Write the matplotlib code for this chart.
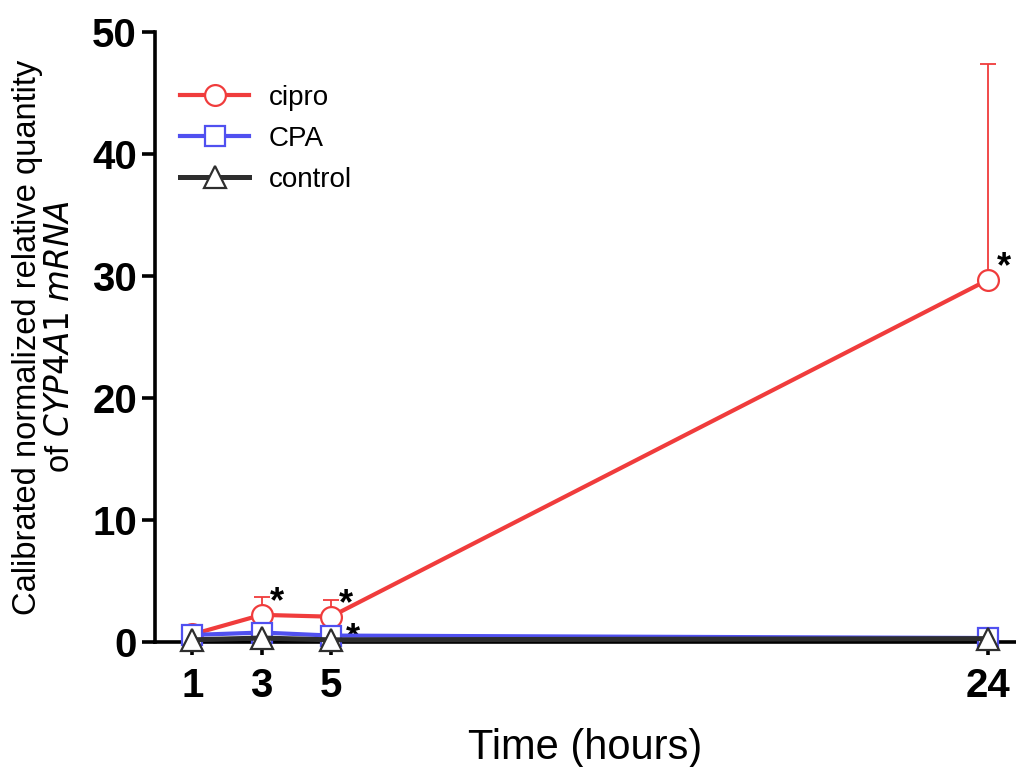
import matplotlib
matplotlib.use("Agg")
import matplotlib.pyplot as plt

plt.rcParams['font.family'] = ['Liberation Sans', 'DejaVu Sans']

# Sampling times (hours) and mean expression per treatment
hours = [1, 3, 5, 24]
cipro = [0.6, 2.2, 2.05, 29.7]
cipro_err = [0.0, 1.5, 1.35, 17.7]
cpa = [0.55, 0.75, 0.5, 0.3]
control = [0.15, 0.3, 0.15, 0.25]

# Indices of points flagged as significant
sig_cipro = [1, 2, 3]
sig_cpa = [2]

x_ticks = [1, 3, 5, 24]
y_ticks = [0, 10, 20, 30, 40, 50]

red = '#F03C3C'
blue = '#5050F0'
dark = '#2E2E2E'

fig = plt.figure(figsize=(10.16, 7.67), dpi=100)
ax = fig.add_axes([0.1526, 0.1634, 0.8474, 0.7946])

ax.errorbar(hours, cipro, yerr=[[0] * len(cipro_err), cipro_err], fmt='none',
            ecolor=red, elinewidth=1.3, capsize=6, capthick=1.3, zorder=2)
ax.plot(hours, cipro, '-o', color=red, lw=3.0, ms=15, mfc='white', mec=red,
        mew=1.6, label='cipro', zorder=3, clip_on=False)
ax.plot(hours, cpa, '-s', color=blue, lw=3.0, ms=14, mfc='white', mec=blue,
        mew=1.6, label='CPA', zorder=4, clip_on=False)
ax.plot(hours, control, '-^', color=dark, lw=3.6, ms=16, mfc='white', mec=dark,
        mew=1.6, label='control', zorder=5, clip_on=False)

for i in sig_cipro:
    ax.annotate('*', (hours[i], cipro[i]), xytext=(6, -4), textcoords='offset points',
                fontsize=26, fontweight='bold', ha='left', va='bottom', clip_on=False)
for i in sig_cpa:
    ax.annotate('*', (hours[i], cpa[i]), xytext=(11, -15), textcoords='offset points',
                fontsize=26, fontweight='bold', ha='left', va='bottom', clip_on=False)

ax.set_xlim(-0.08, 24.8)
ax.set_ylim(0, 50)
ax.set_xticks(x_ticks)
ax.set_yticks(y_ticks)

for side in ('top', 'right'):
    ax.spines[side].set_visible(False)
for side in ('left', 'bottom'):
    ax.spines[side].set_linewidth(2.6)

ax.tick_params(axis='both', direction='out', length=9.5, width=2.6, labelsize=29)
ax.tick_params(axis='y', pad=3.5)
ax.tick_params(axis='x', pad=9)
for lab in ax.get_xticklabels() + ax.get_yticklabels():
    lab.set_fontweight('bold')

ax.set_xlabel('Time (hours)', fontsize=30, labelpad=16)
ax.set_ylabel('Calibrated normalized relative quantity\nof $\\it{CYP4A1}$ $\\it{mRNA}$',
              fontsize=23.5, labelpad=12, linespacing=1.05)

ax.legend(loc='upper left', bbox_to_anchor=(0.0, 0.955), frameon=False,
          fontsize=20, handlelength=2.5, handletextpad=0.7, labelspacing=0.55)

fig.savefig('out.png', dpi=100)
